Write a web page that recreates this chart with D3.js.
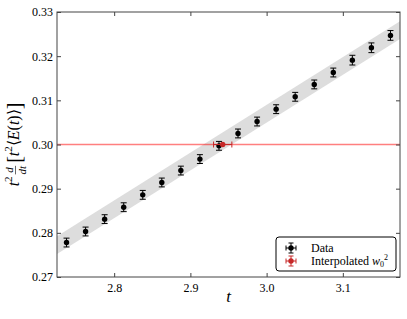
<!DOCTYPE html>
<html>
<head>
<meta charset="utf-8">
<script src="https://cdn.jsdelivr.net/npm/d3@7"></script>
<style>
body { margin: 0; background: #fff; }
svg text { font-family: "Liberation Serif"; }
</style>
</head>
<body>
<svg id="chart"></svg>
<script>
(function () {
var width = 407, height = 319
var margin = {top: 12, right: 7, bottom: 42, left: 57}
var serif = '"Liberation Serif"'

// flow time t and t^2 d/dt [t^2 <E(t)>]
var tValues = [2.7375, 2.7625, 2.7875, 2.8125, 2.8375, 2.8625, 2.8875, 2.9125, 2.9375,
               2.9625, 2.9875, 3.0125, 3.0375, 3.0625, 3.0875, 3.1125, 3.1375, 3.1625]
var wValues = [0.2778, 0.2803, 0.2831, 0.2858, 0.2886, 0.2914, 0.2941, 0.2967, 0.2997,
               0.3025, 0.3052, 0.3080, 0.3108, 0.3136, 0.3163, 0.3191, 0.3219, 0.3247]
var wErrors = [0.0010, 0.0010, 0.0010, 0.0010, 0.0010, 0.0010, 0.0010, 0.0010, 0.0010,
               0.0010, 0.0010, 0.0010, 0.0010, 0.0010, 0.0010, 0.0011, 0.0011, 0.0011]

// fit band (ends of the shaded region)
var bandT = [2.725, 3.175]
var bandLow = [0.2752, 0.3239]
var bandHigh = [0.2792, 0.3279]

var refLevel = 0.30
var interpT = [2.9424]
var interpW = [0.3000]
var interpTErr = [0.012]

var xTicks = [2.8, 2.9, 3.0, 3.1]
var yTicks = [0.27, 0.28, 0.29, 0.30, 0.31, 0.32, 0.33]

var svg = d3.select('#chart')
            .attr('width', width)
            .attr('height', height)
            .style('font-family', serif)

var x = d3.scaleLinear().domain([2.725, 3.175]).range([margin.left, width - margin.right])
var y = d3.scaleLinear().domain([0.27, 0.33]).range([height - margin.bottom, margin.top])

var black = '#000'
var red = '#c62828'

// shaded band
var band = bandT.map((t, i) => ({t: t, lo: bandLow[i], hi: bandHigh[i]}))
svg.append('path')
    .datum(band)
    .attr('fill', '#dddddd')
    .attr('d', d3.area().x((d) => x(d.t)).y0((d) => y(d.lo)).y1((d) => y(d.hi)))

// reference line
svg.append('line')
    .attr('x1', x.range()[0]).attr('x2', x.range()[1])
    .attr('y1', y(refLevel)).attr('y2', y(refLevel))
    .attr('stroke', '#ff0000').attr('stroke-opacity', 0.5)
    .attr('stroke-width', 1.5)

// data with error bars
var cap = 3
var data = tValues.map((t, i) => ({t: t, w: wValues[i], e: wErrors[i]}))
var g = svg.append('g').selectAll('g')
    .data(data)
    .enter().append('g')
g.append('line')
    .attr('x1', (d) => x(d.t)).attr('x2', (d) => x(d.t))
    .attr('y1', (d) => y(d.w - d.e)).attr('y2', (d) => y(d.w + d.e))
    .attr('stroke', black)
g.selectAll('.cap')
    .data((d) => [d.w - d.e, d.w + d.e].map((v) => ({t: d.t, v: v})))
    .enter().append('line')
    .attr('x1', (d) => x(d.t) - cap).attr('x2', (d) => x(d.t) + cap)
    .attr('y1', (d) => y(d.v)).attr('y2', (d) => y(d.v))
    .attr('stroke', black)
g.append('circle')
    .attr('cx', (d) => x(d.t)).attr('cy', (d) => y(d.w))
    .attr('r', 2.7).attr('fill', black)

// interpolated point
var ip = interpT.map((t, i) => ({t: t, w: interpW[i], e: interpTErr[i]}))
var gi = svg.append('g').selectAll('g').data(ip).enter().append('g')
gi.append('line')
    .attr('x1', (d) => x(d.t - d.e)).attr('x2', (d) => x(d.t + d.e))
    .attr('y1', (d) => y(d.w)).attr('y2', (d) => y(d.w))
    .attr('stroke', red)
gi.selectAll('.cap')
    .data((d) => [d.t - d.e, d.t + d.e].map((v) => ({t: v, w: d.w})))
    .enter().append('line')
    .attr('x1', (d) => x(d.t)).attr('x2', (d) => x(d.t))
    .attr('y1', (d) => y(d.w) - cap).attr('y2', (d) => y(d.w) + cap)
    .attr('stroke', red)
gi.append('circle')
    .attr('cx', (d) => x(d.t)).attr('cy', (d) => y(d.w))
    .attr('r', 2.7).attr('fill', red)

// axes, ticks inside on all four sides
var frame = '#444'
function styleAxis(sel) {
    sel.attr('font-family', null)
    sel.select('.domain').remove()
    sel.selectAll('.tick line').attr('stroke', frame)
    sel.selectAll('.tick text').attr('fill', black)
        .style('font-family', serif).style('font-size', '12px')
}
var ax = svg.append('g').attr('transform', 'translate(0,' + y.range()[0] + ')')
    .call(d3.axisBottom(x).tickValues(xTicks).tickFormat(d3.format('.1f'))
        .tickSizeInner(-4).tickSizeOuter(0).tickPadding(6))
ax.call(styleAxis)
var axt = svg.append('g').attr('transform', 'translate(0,' + y.range()[1] + ')')
    .call(d3.axisTop(x).tickValues(xTicks).tickFormat('').tickSizeInner(-4).tickSizeOuter(0))
axt.call(styleAxis)
var ay = svg.append('g').attr('transform', 'translate(' + x.range()[0] + ',0)')
    .call(d3.axisLeft(y).tickValues(yTicks).tickFormat(d3.format('.2f'))
        .tickSizeInner(-4).tickSizeOuter(0).tickPadding(4))
ay.call(styleAxis)
var ayr = svg.append('g').attr('transform', 'translate(' + x.range()[1] + ',0)')
    .call(d3.axisRight(y).tickValues(yTicks).tickFormat('').tickSizeInner(-4).tickSizeOuter(0))
ayr.call(styleAxis)

svg.append('rect')
    .attr('x', x.range()[0]).attr('y', y.range()[1])
    .attr('width', x.range()[1] - x.range()[0])
    .attr('height', y.range()[0] - y.range()[1])
    .attr('fill', 'none').attr('stroke', frame).attr('stroke-width', 1)

// x label
svg.append('text')
    .attr('x', (x.range()[0] + x.range()[1]) / 2).attr('y', 302)
    .attr('text-anchor', 'middle')
    .style('font-size', '17px').style('font-style', 'italic')
    .text('t')

// y label: t^2 d/dt [t^2 <E(t)>]
var yl = svg.append('g')
var fs = 16
var cursor = 0
function piece(txt, opt) {
    opt = opt || {}
    var t = yl.append('text')
        .attr('x', cursor).attr('y', opt.dy || 0)
        .style('font-size', (opt.size || fs) + 'px')
        .style('font-style', opt.italic ? 'italic' : 'normal')
        .text(txt)
    cursor += t.node().getComputedTextLength() + (opt.gap || 0)
    return t
}
piece('t', {italic: true})
piece('2', {size: 11, dy: -7, gap: 2})
// fraction d / dt
var fx = cursor
var num = yl.append('text').attr('x', fx).attr('y', -6)
    .style('font-size', '11px').style('font-style', 'italic').text('d')
var den = yl.append('text').attr('x', fx).attr('y', 7)
    .style('font-size', '11px').style('font-style', 'italic').text('dt')
var fw = Math.max(num.node().getComputedTextLength(), den.node().getComputedTextLength())
num.attr('x', fx + (fw - num.node().getComputedTextLength()) / 2)
yl.append('line').attr('x1', fx).attr('x2', fx + fw)
    .attr('y1', -3.5).attr('y2', -3.5).attr('stroke', black).attr('stroke-width', 0.6)
cursor += fw + 3
piece('[', {size: 20, dy: 1.5})
piece('t', {italic: true})
piece('2', {size: 11, dy: -7})
piece('\u27E8')
piece('E', {italic: true})
piece('(')
piece('t', {italic: true})
piece(')')
piece('\u27E9')
piece(']', {size: 20, dy: 1.5})
var total = cursor
yl.attr('transform', 'translate(19,' + ((y.range()[0] + y.range()[1]) / 2 + total / 2) + ') rotate(-90)')

// legend
var lg = svg.append('g').attr('transform', 'translate(276,237)')
lg.append('rect')
    .attr('width', 120).attr('height', 34).attr('rx', 3)
    .attr('fill', '#fff').attr('stroke', black).attr('stroke-width', 1)
var legendItems = [{label: 'Data', color: black}, {label: 'Interpolated', color: red}]
legendItems.forEach(function (d, i) {
    var cy = 11 + i * 13, cx = 15
    var m = lg.append('g').attr('stroke', d.color)
    m.append('line').attr('x1', cx - 5).attr('x2', cx + 5).attr('y1', cy).attr('y2', cy)
    m.append('line').attr('x1', cx).attr('x2', cx).attr('y1', cy - 5).attr('y2', cy + 5)
    m.append('line').attr('x1', cx - 5).attr('x2', cx - 5).attr('y1', cy - 2.5).attr('y2', cy + 2.5)
    m.append('line').attr('x1', cx + 5).attr('x2', cx + 5).attr('y1', cy - 2.5).attr('y2', cy + 2.5)
    m.append('line').attr('x1', cx - 2.5).attr('x2', cx + 2.5).attr('y1', cy - 5).attr('y2', cy - 5)
    m.append('line').attr('x1', cx - 2.5).attr('x2', cx + 2.5).attr('y1', cy + 5).attr('y2', cy + 5)
    lg.append('circle').attr('cx', cx).attr('cy', cy).attr('r', 2.7).attr('fill', d.color)
    var t = lg.append('text').attr('x', 35).attr('y', cy + 4)
        .style('font-size', '12px').text(d.label)
    if (i === 1) {
        t.append('tspan').text(' ')
        t.append('tspan').style('font-style', 'italic').text('w')
        t.append('tspan').attr('dy', 2).style('font-size', '8px').text('0')
        t.append('tspan').attr('dy', -7).style('font-size', '8px').text('2')
    }
})
})();
</script>
</body>
</html>
